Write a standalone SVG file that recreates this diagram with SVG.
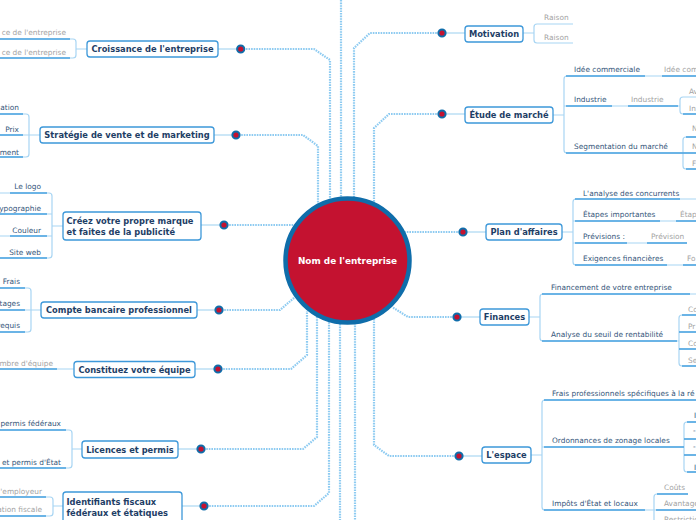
<svg xmlns="http://www.w3.org/2000/svg" width="696" height="520" viewBox="0 0 696 520">
<style>
.conn{fill:none;stroke:#8ECBF1;stroke-width:2.2;stroke-dasharray:1.6 1}
.link{fill:none;stroke:#9ACFF0;stroke-width:1.2}
.br{fill:none;stroke:#A8D5F3;stroke-width:1.2}
.ul{fill:none;stroke:#4AA3DF;stroke-width:1.4}
.node rect{fill:#fff;stroke:#3D98D9;stroke-width:1.3}
.nt{font-family:"DejaVu Sans",Verdana,sans-serif;font-weight:bold;font-size:8.3px;fill:#1E3E66}
.st{font-family:"DejaVu Sans",Verdana,sans-serif;font-size:7.4px;fill:#35567A}
.gt{fill:#A3A3A3}
.dot{fill:#C41230;stroke:#0F6DAA;stroke-width:2}
.e{text-anchor:end}
.m{text-anchor:middle}
</style>
<rect width="696" height="520" fill="#fff"/>
<g id="connectors">
<path class="conn" d="M341,0 V197"/>
<path class="conn" d="M240.7,49 H314 L330,60 V200"/>
<path class="conn" d="M236,135 H303 L318,146 V205"/>
<path class="conn" d="M442,33 H370 L354,48 V197"/>
<path class="conn" d="M442,114 H389 L374,128 V203"/>
<path class="conn" d="M224,225 H294"/>
<path class="conn" d="M219,310 H280 L295,297"/>
<path class="conn" d="M218,369 H291 L307,355 V311"/>
<path class="conn" d="M201,449 H303 L317,437 V316"/>
<path class="conn" d="M204,506 H314 L329,493 V320"/>
<path class="conn" d="M340,324 V520"/>
<path class="conn" d="M355,323 V520"/>
<path class="conn" d="M459,456 H389 L374,445 V318"/>
<path class="conn" d="M463,232 H405"/>
<path class="conn" d="M457,317 H408 L392,307"/>
<path class="link" d="M240.7,49 H218 M236,135 H214 M224,225 H201 M219,310 H197 M218,369 H195 M201,449 H178 M204,506 H182"/>
<path class="link" d="M442,33 H465 M442,114 H465 M463,232 H486 M457,317 H480 M459,456 H482"/>
</g>
<g id="center">
<circle cx="347.5" cy="260.5" r="62" fill="#C41230" stroke="#0F6DAA" stroke-width="4.5"/>
<text x="347.5" y="264" class="m" font-family="DejaVu Sans,Verdana,sans-serif" font-weight="bold" font-size="8.9px" fill="#fff">Nom de l'entreprise</text>
</g>
<g id="dots">
<circle class="dot" cx="240.7" cy="49" r="3.6"/>
<circle class="dot" cx="236" cy="135" r="3.6"/>
<circle class="dot" cx="224" cy="225" r="3.6"/>
<circle class="dot" cx="219" cy="310" r="3.6"/>
<circle class="dot" cx="218" cy="369" r="3.6"/>
<circle class="dot" cx="201" cy="449" r="3.6"/>
<circle class="dot" cx="204" cy="506" r="3.6"/>
<circle class="dot" cx="442" cy="33" r="3.6"/>
<circle class="dot" cx="442" cy="114" r="3.6"/>
<circle class="dot" cx="463" cy="232" r="3.6"/>
<circle class="dot" cx="457" cy="317" r="3.6"/>
<circle class="dot" cx="459" cy="456" r="3.6"/>
</g>
<g id="croissance" class="node">
<path class="br" d="M0,39 H73 Q76,39 76,42 V55 Q76,58 73,58 H0 M76,49 H87"/>
<path class="ul" d="M0,39 H70 M0,58 H70"/>
<text class="st gt e" x="66" y="34.6">ce de l'entreprise</text>
<text class="st gt e" x="66" y="54.6">ce de l'entreprise</text>
<rect x="87" y="41" width="131" height="16" rx="3"/>
<text class="nt m" x="152.5" y="52">Croissance de l'entreprise</text>
</g>
<g id="strategie" class="node">
<path class="br" d="M0,114 H26 Q29,114 29,117 V154 Q29,157 26,157 H0 M0,135 H40"/>
<path class="ul" d="M0,114 H23 M0,135 H23 M0,157 H23"/>
<text class="st e" x="19" y="109.6">ation</text>
<text class="st e" x="19" y="131.6">Prix</text>
<text class="st e" x="19" y="154.6">ment</text>
<rect x="40" y="127" width="174" height="16" rx="3"/>
<text class="nt m" x="127" y="138">Stratégie de vente et de marketing</text>
</g>
<g id="marque" class="node">
<path class="br" d="M0,193 H49 Q52,193 52,196 V255 Q52,258 49,258 H0 M0,214 H52 M0,236 H52 M52,226 H63"/>
<path class="ul" d="M10,193 H47 M0,214 H47 M10,236 H47 M0,258 H47"/>
<text class="st e" x="41" y="188.6">Le logo</text>
<text class="st e" x="41" y="210.6">ypographie</text>
<text class="st e" x="41" y="232.6">Couleur</text>
<text class="st e" x="41" y="254.6">Site web</text>
<rect x="63" y="212" width="138" height="28" rx="3"/>
<text class="nt" x="66.5" y="224">Créez votre propre marque</text>
<text class="nt" x="66.5" y="235">et faites de la publicité</text>
</g>
<g id="compte" class="node">
<path class="br" d="M0,288 H28 Q31,288 31,291 V329 Q31,332 28,332 H0 M0,310 H41"/>
<path class="ul" d="M0,288 H25 M0,310 H25 M0,332 H25"/>
<text class="st e" x="20" y="283.6">Frais</text>
<text class="st e" x="20" y="305.6">tages</text>
<text class="st e" x="20" y="327.6">requis</text>
<rect x="41" y="302" width="156" height="16" rx="3"/>
<text class="nt m" x="119" y="313">Compte bancaire professionnel</text>
</g>
<g id="equipe" class="node">
<path class="br" d="M0,369 H74"/>
<path class="ul" d="M0,369 H57"/>
<text class="st gt e" x="53" y="365.6">mbre d'équipe</text>
<rect x="74" y="361.5" width="121" height="16" rx="3"/>
<text class="nt m" x="134.5" y="372.5">Constituez votre équipe</text>
</g>
<g id="licences" class="node">
<path class="br" d="M0,430 H69 Q72,430 72,433 V465 Q72,468 69,468 H0 M72,449 H82"/>
<path class="ul" d="M0,430 H66 M0,468 H66"/>
<text class="st e" x="61" y="425.6">permis fédéraux</text>
<text class="st e" x="61" y="464.6">et permis d'État</text>
<rect x="82" y="441" width="96" height="17" rx="3"/>
<text class="nt m" x="130" y="452.5">Licences et permis</text>
</g>
<g id="identifiants" class="node">
<path class="br" d="M0,497 H50 Q53,497 53,500 V513 Q53,516 50,516 H0 M53,506 H63"/>
<path class="ul" d="M0,497 H46 M0,516 H46"/>
<text class="st gt e" x="42" y="493.6">'employeur</text>
<text class="st gt e" x="42" y="511.6">ation fiscale</text>
<rect x="63" y="492" width="119" height="31" rx="3"/>
<text class="nt" x="66.5" y="505">Identifiants fiscaux</text>
<text class="nt" x="66.5" y="516">fédéraux et étatiques</text>
</g>
<g id="motivation" class="node">
<path class="br" d="M573,24 H537 Q534,24 534,27 V40 Q534,43 537,43 H573 M523,33 H534"/>
<text class="st gt" x="544" y="19.6">Raison</text>
<text class="st gt" x="544" y="39.6">Raison</text>
<rect x="465" y="26" width="58" height="16" rx="3"/>
<text class="nt m" x="494" y="37">Motivation</text>
</g>
<g id="etude" class="node">
<path class="br" d="M696,76 H567 Q564,76 564,79 V150 Q564,153 567,153 H683 M564,106 H680 M553,115 H564"/>
<path class="br" d="M696,97 H683 Q680,97 680,100 V111 Q680,114 683,114 H696"/>
<path class="br" d="M696,137 H686 Q683,137 683,140 V166 Q683,169 686,169 H696 M683,153 H696"/>
<path class="ul" d="M566,76 H645 M662,76 H696 M566,106 H612 M628,106 H678 M566,153 H683 M683,114 H696 M686,137 H696 M683,153 H696 M686,169 H696"/>
<text class="st" x="574" y="71.6">Idée commerciale</text>
<text class="st gt" x="664" y="71.6">Idée com</text>
<text class="st" x="574" y="101.6">Industrie</text>
<text class="st gt" x="631" y="101.6">Industrie</text>
<text class="st gt" x="689" y="93.6">Av</text>
<text class="st gt" x="689" y="110.6">In</text>
<text class="st" x="574" y="148.6">Segmentation du marché</text>
<text class="st gt" x="692" y="130.6">N</text>
<text class="st gt" x="692" y="148.6">N</text>
<text class="st gt" x="692" y="165.6">F</text>
<rect x="465" y="107" width="88" height="16" rx="3"/>
<text class="nt m" x="509" y="118">Étude de marché</text>
</g>
<g id="plan" class="node">
<path class="br" d="M696,199 H576 Q573,199 573,202 V262 Q573,265 576,265 H696 M573,221 H696 M573,243 H687 M562,232 H573"/>
<path class="ul" d="M575,199 H680 M575,221 H660 M676,221 H696 M575,243 H627 M647,243 H687 M575,265 H667 M683,265 H696"/>
<text class="st" x="583" y="195.6">L'analyse des concurrents</text>
<text class="st" x="583" y="216.6">Étapes importantes</text>
<text class="st gt" x="680" y="216.6">Étap</text>
<text class="st" x="583" y="238.6">Prévisions :</text>
<text class="st gt" x="651" y="238.6">Prévision</text>
<text class="st" x="583" y="260.6">Exigences financières</text>
<text class="st gt" x="687" y="260.6">Fo</text>
<rect x="486" y="224" width="76" height="16" rx="3"/>
<text class="nt m" x="524" y="235">Plan d'affaires</text>
</g>
<g id="finances" class="node">
<path class="br" d="M696,294 H543 Q540,294 540,297 V338 Q540,341 543,341 H679 M529,317 H540"/>
<path class="br" d="M696,315 H682 Q679,315 679,318 V363 Q679,366 682,366 H696 M679,332 H696 M679,349 H696"/>
<path class="ul" d="M542,294 H690 M542,341 H677 M682,315 H696 M679,332 H696 M679,349 H696 M682,366 H696"/>
<text class="st" x="551" y="289.6">Financement de votre entreprise</text>
<text class="st" x="551" y="336.6">Analyse du seuil de rentabilité</text>
<text class="st gt" x="688" y="311.6">Co</text>
<text class="st gt" x="688" y="328.6">Pr</text>
<text class="st gt" x="688" y="345.6">Co</text>
<text class="st gt" x="688" y="362.6">Se</text>
<rect x="480" y="309" width="49" height="16" rx="3"/>
<text class="nt m" x="504.5" y="320">Finances</text>
</g>
<g id="espace" class="node">
<path class="br" d="M696,400 H545 Q542,400 542,403 V507 Q542,510 545,510 H654 M542,447 H684 M531,455 H542"/>
<path class="br" d="M696,422 H687 Q684,422 684,425 V469 Q684,472 687,472 H696 M684,439 H696 M684,455 H696"/>
<path class="br" d="M688,494 H657 Q654,494 654,497 V530 M654,510 H696"/>
<path class="ul" d="M544,400 H696 M544,447 H684 M544,510 H645 M657,494 H688 M656,510 H696 M687,422 H696 M684,439 H696 M684,455 H696 M687,472 H696"/>
<text class="st" x="552" y="395.6">Frais professionnels spécifiques à la ré</text>
<text class="st" x="552" y="442.6">Ordonnances de zonage locales</text>
<text class="st" x="694" y="417.6">I</text>
<text class="st" x="693" y="432.6">-</text>
<text class="st" x="693" y="448.6">-</text>
<text class="st" x="694" y="469.6">I</text>
<text class="st" x="552" y="505.6">Impôts d'État et locaux</text>
<text class="st gt" x="664" y="489.6">Coûts</text>
<text class="st gt" x="664" y="505.6">Avantage</text>
<text class="st gt" x="664" y="522">Restrictio</text>
<rect x="482" y="447" width="49" height="16" rx="3"/>
<text class="nt m" x="506.5" y="458">L'espace</text>
</g>
</svg>
